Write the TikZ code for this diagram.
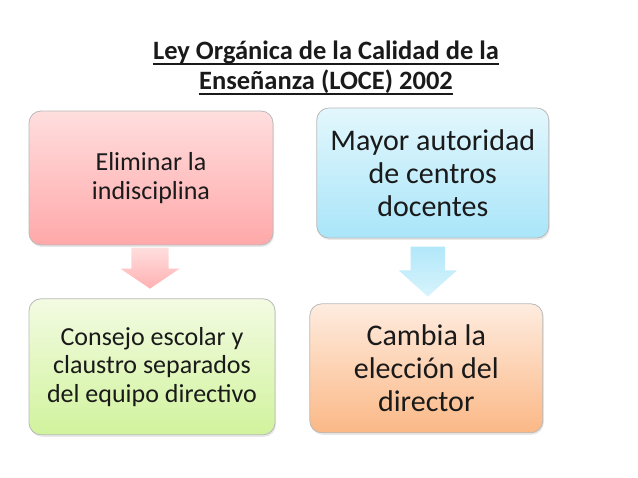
\documentclass[tikz,border=0pt]{standalone}
\usepackage{fontspec}
\setmainfont{Carlito}
\usetikzlibrary{positioning, shapes.arrows, shadows}

\definecolor{pinktop}{HTML}{FFDEDE}
\definecolor{pinkbot}{HTML}{FFA8A9}
\definecolor{bluetop}{HTML}{E3F7FD}
\definecolor{bluebot}{HTML}{A9E5F9}
\definecolor{greentop}{HTML}{F3FBE2}
\definecolor{greenbot}{HTML}{D1F39D}
\definecolor{orangetop}{HTML}{FEECDF}
\definecolor{orangebot}{HTML}{FBB886}
\definecolor{inkgray}{HTML}{1A1A1A}

\begin{document}
\begin{tikzpicture}[x=1pt, y=-1pt,
                node distance = 53pt and 43pt,
                    box/.style = {draw=gray!55, line width=0.8pt, rounded corners=12pt, align=center, text=inkgray, drop shadow={opacity=0.18, shadow xshift=1pt, shadow yshift=-2pt}},
                    smalltext/.style = {font=\fontsize{26}{28.5}\selectfont},
                    bigtext/.style = {font=\fontsize{30}{33}\selectfont},
                    downarrow/.style = {single arrow, shape border rotate=270, inner sep=0pt, draw=none},
                    titletext/.style = {font=\fontsize{26.5}{30}\selectfont\bfseries, inner sep=0pt, text=inkgray, anchor=base},
                    underline/.style = {line width=1.5pt, draw=inkgray}
                ]

                \useasboundingbox (0,0) rectangle (638,478);

                \node[titletext] (title1) at (326,60) {Ley Orgánica de la Calidad de la};
                \node[titletext] (title2) at (326,90) {Enseñanza (LOCE) 2002};
                \draw[underline] ([yshift=-3.8pt]title1.base west) -- ([yshift=-3.8pt]title1.base east);
                \draw[underline] ([yshift=-3.8pt]title2.base west) -- ([yshift=-3.8pt]title2.base east);

                \node[box, smalltext, top color=pinktop, bottom color=pinkbot, minimum width=244pt, minimum height=134pt] (eliminar) at (151,178) {Eliminar la\\indisciplina};
                \node[box, bigtext, top color=bluetop, bottom color=bluebot, minimum width=232pt, minimum height=130pt, right=43pt of eliminar, yshift=5pt] (autoridad) {Mayor autoridad\\de centros\\docentes};
                \node[box, smalltext, top color=greentop, bottom color=greenbot, minimum width=246pt, minimum height=136pt, below=of eliminar, xshift=1pt] (consejo) {Consejo escolar y\\claustro separados\\del equipo directivo};
                \node[box, bigtext, top color=orangetop, bottom color=orangebot, minimum width=233pt, minimum height=129pt, right=34pt of consejo, yshift=-1.5pt] (director) {Cambia la\\elección del\\director};

                \node[downarrow, top color=pinktop, bottom color=pinkbot!90, minimum height=41pt, single arrow head extend=11pt, single arrow tip angle=112, below=2pt of eliminar, xshift=-1pt] (arrowpink) {\hspace*{37pt}};
                \node[downarrow, top color=bluebot!90, bottom color=bluetop!80!bluebot, minimum height=50pt, single arrow head extend=12pt, single arrow tip angle=96, below=8pt of autoridad, xshift=-5pt] (arrowblue) {\hspace*{34pt}};

            \end{tikzpicture}
\end{document}
